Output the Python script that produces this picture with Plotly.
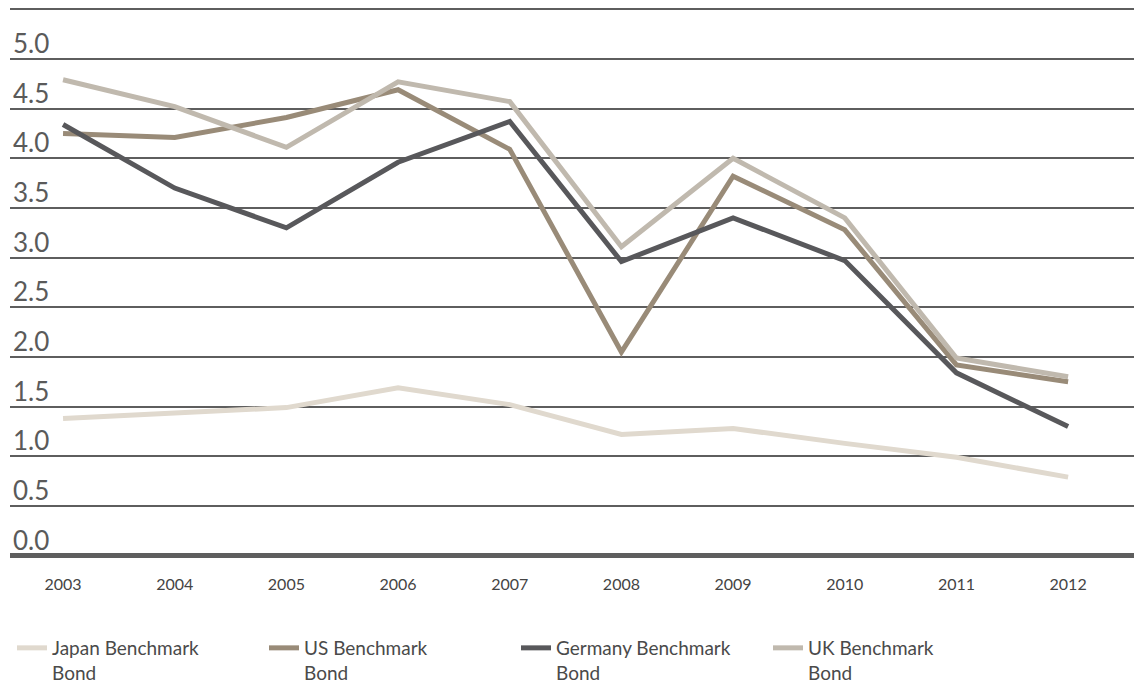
import plotly.graph_objects as go

# Benchmark 10-year government bond yields (%)
years = [2003, 2004, 2005, 2006, 2007, 2008, 2009, 2010, 2011, 2012]
japan = [1.38, 1.44, 1.49, 1.69, 1.52, 1.22, 1.28, 1.13, 0.99, 0.79]
us = [4.25, 4.21, 4.41, 4.69, 4.09, 2.05, 3.82, 3.28, 1.92, 1.75]
germany = [4.34, 3.70, 3.30, 3.96, 4.37, 2.96, 3.40, 2.97, 1.84, 1.30]
uk = [4.79, 4.52, 4.11, 4.77, 4.57, 3.11, 4.00, 3.40, 1.99, 1.80]

series = [
    ("Japan Benchmark<br>Bond", japan, "#e0d9ce"),
    ("US Benchmark<br>Bond", us, "#998b78"),
    ("Germany Benchmark<br>Bond", germany, "#58585b"),
    ("UK Benchmark<br>Bond", uk, "#c0b9ae"),
]

y_ticks = [0.0, 0.5, 1.0, 1.5, 2.0, 2.5, 3.0, 3.5, 4.0, 4.5, 5.0, 5.5]
y_labels = ["0.0", "0.5", "1.0", "1.5", "2.0", "2.5", "3.0", "3.5", "4.0", "4.5", "5.0", ""]

FONT = "Lato"

fig = go.Figure()
for name, vals, color in series:
    fig.add_trace(go.Scatter(
        x=years, y=vals, name=name, mode="lines",
        line=dict(color=color, width=5),
    ))

fig.update_layout(
    width=1134, height=685,
    margin=dict(l=10, r=0, t=5, b=125),
    paper_bgcolor="white", plot_bgcolor="white",
    font=dict(family=FONT, color="#4a4a4a"),
    showlegend=True,
    legend=dict(
        orientation="h",
        xref="container", yref="container",
        x=12 / 1134, y=1 - 629 / 685, xanchor="left", yanchor="top",
        entrywidth=207, entrywidthmode="pixels",
        valign="top",
        font=dict(family=FONT, size=19, color="#4a4a4a"),
        itemwidth=30,
    ),
    xaxis=dict(
        range=[2002.525, 2012.59],
        tickmode="array", tickvals=years, ticktext=[str(y) for y in years],
        showgrid=False, zeroline=False, showline=False,
        ticks="", ticklabelstandoff=13,
        tickfont=dict(family=FONT, size=16, color="#444444"),
        fixedrange=True,
    ),
    yaxis=dict(
        range=[-0.044, 5.543],
        tickmode="array", tickvals=y_ticks, ticktext=y_labels,
        showgrid=True, gridcolor="#5e5e5e", gridwidth=2,
        zeroline=True, zerolinecolor="#5e5e5e", zerolinewidth=5,
        showline=False, ticks="",
        ticklabelposition="inside", ticklabelstandoff=0, ticklabelshift=-15,
        tickfont=dict(family=FONT, size=26, color="#5a5a5a"),
        fixedrange=True,
    ),
)

fig.write_html("out.html")
